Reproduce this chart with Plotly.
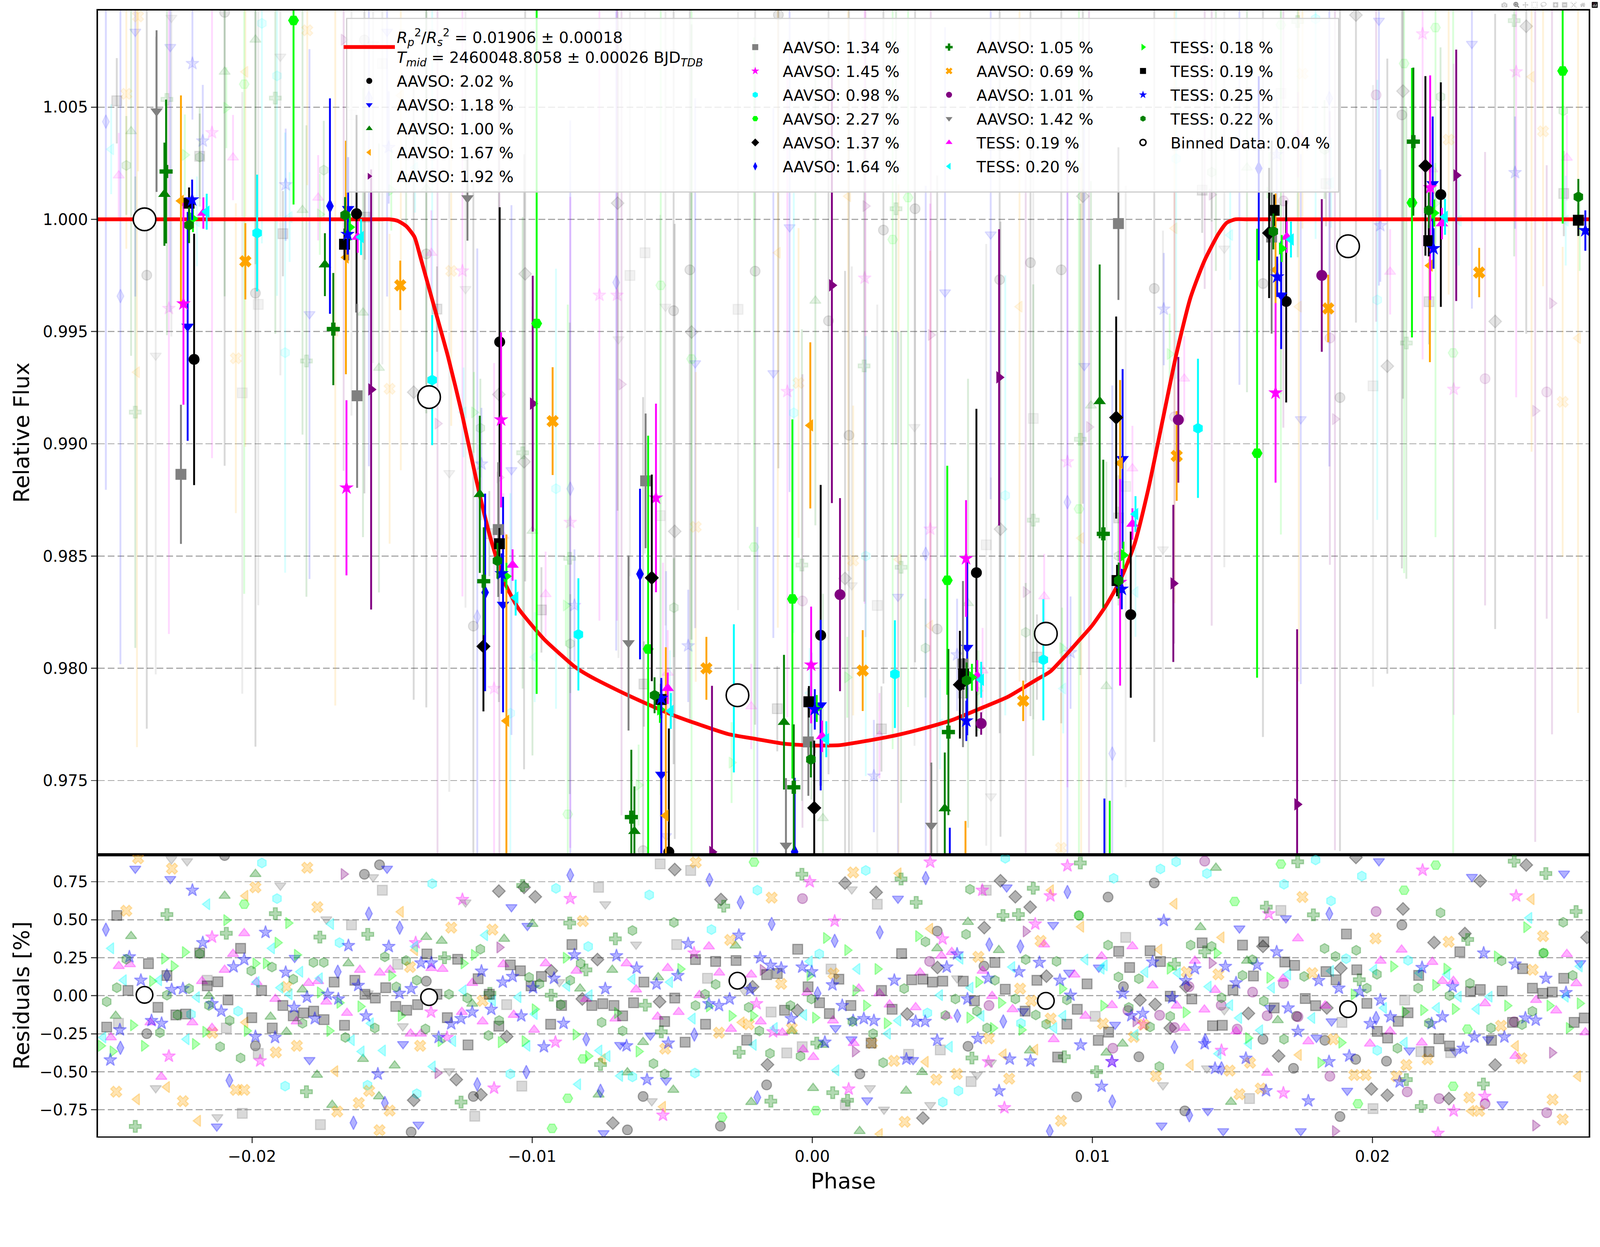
import plotly.graph_objects as go

# ------------------------------------------------------------------ data
sources = ["AAVSO"] * 15 + ["TESS"] * 6
scatter_pct = [2.02, 1.18, 1.00, 1.67, 1.92, 1.34, 1.45, 0.98, 2.27, 1.37, 1.64,
               1.05, 0.69, 1.01, 1.42, 0.19, 0.20, 0.18, 0.19, 0.25, 0.22]
binned_pct = 0.04
rp2_value, rp2_error = 0.01906, 0.00018
tmid_value, tmid_error = 2460048.8058, 0.00026

# transit model
model_phase = [-0.0256, -0.0200, -0.0165, -0.0155, -0.0151, -0.0148, -0.0145, -0.0142, -0.0140, -0.0135,
               -0.0130, -0.0125, -0.0120, -0.0115, -0.0110, -0.0105, -0.0100, -0.0095, -0.0090, -0.0085,
               -0.0080, -0.0070, -0.0060, -0.0050, -0.0040, -0.0030, -0.0020, -0.0010, 0.0000, 0.0010,
               0.0020, 0.0030, 0.0040, 0.0050, 0.0060, 0.0070, 0.0080, 0.0085, 0.0090, 0.0095,
               0.0100, 0.0105, 0.0110, 0.0115, 0.0120, 0.0125, 0.0130, 0.0135, 0.0140, 0.0145,
               0.0148, 0.0151, 0.0155, 0.0165, 0.0200, 0.0278]
model_flux = [1.0, 1.0, 1.0, 1.0, 1.0, 0.99993, 0.99970, 0.99921, 0.99836, 0.99611,
              0.99386, 0.99130, 0.98842, 0.98585, 0.98387, 0.98268, 0.98190, 0.98120, 0.98063, 0.98009,
              0.97969, 0.97905, 0.97847, 0.97793, 0.97748, 0.97707, 0.97685, 0.97664, 0.97656, 0.97658,
              0.97678, 0.97702, 0.97733, 0.97770, 0.97821, 0.97874, 0.97949, 0.97986, 0.98051, 0.98121,
              0.98192, 0.98282, 0.98394, 0.98551, 0.98800, 0.99100, 0.99400, 0.99650, 0.99815, 0.99935,
              0.99985, 1.0, 1.0, 1.0, 1.0, 1.0]

# all-data binned points (open circles)
binned_phase = [-0.02384, -0.01368, -0.00267, 0.00834, 0.01913]
binned_flux = [1.00000, 0.99208, 0.97880, 0.98154, 0.99880]
binned_resid = [0.006, -0.009, 0.099, -0.033, -0.088]

# per-dataset binned points
bin_phase = [
    [-0.02207, -0.01627, -0.01116, -0.00512, 0.00030, 0.00586, 0.01137, 0.01692, 0.02244],
    [-0.02230, -0.01657, -0.01104, -0.00539, 0.00030, 0.00553, 0.01108, 0.01674, 0.02215],
    [-0.02313, -0.01740, -0.01187, -0.00635, -0.00101, 0.00473, 0.01026],
    [-0.02254, -0.01665, -0.01092, -0.00523, -0.00007, 0.00547, 0.01099, 0.01654, 0.02205],
    [-0.01575, -0.00998, -0.00358, 0.00070, 0.00667, 0.01289, 0.01731, 0.02299],
    [-0.02254, -0.01625, -0.01121, -0.00595, -0.00014, 0.00538, 0.01093, 0.01640],
    [-0.02245, -0.01663, -0.01111, -0.00558, -0.00004, 0.00549, 0.01099, 0.01654, 0.02206],
    [-0.01982, -0.01357, -0.00835, -0.00280, 0.00295, 0.00825, 0.01377],
    [-0.01852, -0.00984, -0.00586, -0.00071, 0.00482, 0.01062, 0.01588, 0.02141, 0.02679],
    [-0.01174, -0.00573, 0.00007, 0.00527, 0.01085, 0.01631, 0.02189],
    [-0.01722, -0.01168, -0.00615, -0.00063, 0.00491, 0.01043, 0.01594],
    [-0.02307, -0.01710, -0.01173, -0.00646, -0.00066, 0.00486, 0.01039, 0.02146],
    [-0.02024, -0.01471, -0.00927, -0.00378, 0.00180, 0.00753, 0.01301, 0.01842, 0.02381],
    [0.00099, 0.00603, 0.01307, 0.01819],
    [-0.02341, -0.01231, -0.00656, -0.00094, 0.00425],
    [-0.02174, -0.01623, -0.01070, -0.00516, 0.00035, 0.00589, 0.01143, 0.01694, 0.02248],
    [-0.02162, -0.01611, -0.01059, -0.00505, 0.00050, 0.00603, 0.01154, 0.01709, 0.02259],
    [-0.02211, -0.01651, -0.01092, -0.00544, 0.00016, 0.00570, 0.01111, 0.01676, 0.02220],
    [-0.02225, -0.01670, -0.01117, -0.00540, -0.00012, 0.00540, 0.01088, 0.01649, 0.02201, 0.02735],
    [-0.02214, -0.01659, -0.01109, -0.00539, 0.00009, 0.00550, 0.01105, 0.01660, 0.02218, 0.02760],
    [-0.02225, -0.01668, -0.01124, -0.00563, -0.00005, 0.00551, 0.01094, 0.01646, 0.02201, 0.02735],
]
bin_flux = [
    [0.99376, 1.00025, 0.99454, 0.97182, 0.98147, 0.98426, 0.98239, 0.99634, 1.00110],
    [0.99523, 1.00047, 0.98284, 0.97527, 0.97836, 0.98092, 0.98933, 0.99662, 1.00158],
    [1.00112, 0.99798, 0.98775, 0.97274, 0.97760, 0.97375, 0.99189],
    [1.00082, 0.99830, 0.97766, 0.97344, 0.99082, 0.96970, 0.98914, 0.99775, 0.99794],
    [0.99242, 0.99179, 0.97182, 0.99706, 0.99296, 0.98378, 0.97394, 1.00196],
    [0.98864, 0.99214, 0.98618, 0.98835, 0.97672, 0.98019, 0.99981, 0.99921],
    [0.99624, 0.98804, 0.99107, 0.98759, 0.98015, 0.98489, 0.98383, 0.99227, 1.00141],
    [0.99939, 0.99284, 0.98151, 0.97866, 0.97974, 0.98038, 0.99069],
    [1.00886, 0.99536, 0.98086, 0.98309, 0.98392, 0.96810, 0.98958, 1.00074, 1.00661],
    [0.98098, 0.98403, 0.97378, 0.97927, 0.99117, 0.99939, 1.00238],
    [1.00059, 0.98338, 0.98420, 0.97182, 0.97000, 0.97100, 1.00227],
    [1.00213, 0.99511, 0.98388, 0.97337, 0.97470, 0.97716, 0.98599, 1.00346],
    [0.99813, 0.99706, 0.99101, 0.98000, 0.97990, 0.97855, 0.98946, 0.99603, 0.99763],
    [0.98328, 0.97754, 0.99107, 0.99750],
    [1.00482, 1.00095, 0.98113, 0.97211, 0.97300],
    [1.00028, 0.99921, 0.98460, 0.97911, 0.97697, 0.97966, 0.98643, 0.99921, 0.99981],
    [1.00034, 0.99921, 0.98315, 0.97810, 0.97684, 0.97949, 0.98687, 0.99910, 1.00011],
    [1.00003, 0.99965, 0.98410, 0.97817, 0.97821, 0.97960, 0.98504, 0.99870, 1.00028],
    [1.00072, 0.99889, 0.98555, 0.97861, 0.97851, 0.97975, 0.98391, 1.00040, 0.99905, 0.99996],
    [1.00087, 0.99933, 0.98422, 0.97867, 0.97817, 0.97766, 0.98353, 0.99744, 0.99870, 0.99950],
    [0.99974, 1.00019, 0.98479, 0.97880, 0.97594, 0.97946, 0.98391, 0.99946, 1.00040, 1.00100],
]
bin_err = [
    [0.0056, 0.0044, 0.0060, 0.0055, 0.0067, 0.0073, 0.0037, 0.0045, 0.0050],
    [0.0051, 0.0023, 0.0048, 0.0042, 0.0038, 0.0039, 0.0040, 0.0024, 0.0030],
    [0.0023, 0.0014, 0.0035, 0.0020, 0.0030, 0.0025, 0.0061],
    [0.0047, 0.0052, 0.0083, 0.0075, 0.0037, 0.0035, 0.0037, 0.0034, 0.0043],
    [0.0098, 0.0057, 0.0074, 0.0097, 0.0066, 0.0035, 0.0078, 0.0056],
    [0.0031, 0.0041, 0.0030, 0.0030, 0.0024, 0.0037, 0.0034, 0.0043],
    [0.0045, 0.0039, 0.0039, 0.0042, 0.0026, 0.0026, 0.0046, 0.0040, 0.0050],
    [0.0026, 0.0029, 0.0025, 0.0033, 0.0024, 0.0027, 0.0031],
    [0.0082, 0.0165, 0.0095, 0.0080, 0.0051, 0.0060, 0.0100, 0.0060, 0.0068],
    [0.0029, 0.0046, 0.0030, 0.0024, 0.0045, 0.0029, 0.0040],
    [0.0048, 0.0044, 0.0038, 0.0033, 0.0029, 0.0032, 0.0041],
    [0.0032, 0.0025, 0.0024, 0.0030, 0.0028, 0.0037, 0.0033, 0.0033],
    [0.0017, 0.0011, 0.0024, 0.0014, 0.0018, 0.0009, 0.0020, 0.0015, 0.0011],
    [0.0043, 0.0005, 0.0028, 0.0034],
    [0.0036, 0.0019, 0.0039, 0.0030, 0.0028],
    [0.0007, 0.0007, 0.0007, 0.0007, 0.0007, 0.0007, 0.0007, 0.0007, 0.0007],
    [0.0008, 0.0008, 0.0008, 0.0008, 0.0008, 0.0008, 0.0008, 0.0008, 0.0008],
    [0.0006, 0.0006, 0.0006, 0.0006, 0.0006, 0.0006, 0.0006, 0.0006, 0.0006],
    [0.0007, 0.0007, 0.0007, 0.0007, 0.0007, 0.0007, 0.0007, 0.0007, 0.0007, 0.0007],
    [0.0009, 0.0009, 0.0009, 0.0009, 0.0009, 0.0009, 0.0009, 0.0009, 0.0009, 0.0009],
    [0.0008, 0.0008, 0.0008, 0.0008, 0.0008, 0.0008, 0.0008, 0.0008, 0.0008, 0.0008],
]

# faint unbinned measurements in the flux panel
raw_phase = [
    [-0.02098, -0.01599, -0.02376, -0.01988, -0.01378, -0.01210, 0.00446, -0.00604, 0.01221, 0.02105, 0.01884,
     0.01609, -0.00437, -0.00204, 0.00254, 0.00367, 0.00779, 0.00889, 0.00669, -0.00495, 0.00058, 0.00131, -0.00121],
    [-0.02417, -0.02292, -0.01518, -0.01074, -0.01795, 0.00306, -0.00522, 0.02023, 0.02355, 0.01525, 0.01744,
     -0.00081, 0.00474, -0.00139, -0.00418, 0.00637, 0.00971],
    [-0.01988, -0.02098, -0.02432, -0.00999, -0.01378, -0.01820, -0.01604, -0.01547, 0.00556, 0.00038, 0.01441,
     0.01552, 0.01050, 0.00011, 0.00995],
    [-0.02024, -0.01469, -0.01703, -0.02411, 0.00308, 0.00421, 0.00960, 0.01293, 0.02568, 0.02734, 0.01737,
     0.00740, -0.00123, 0.00128],
    [-0.01673, -0.01117, -0.01338, 0.00762, 0.01426, 0.02641, 0.01866, 0.02581, 0.00190, -0.00681, 0.00423, 0.00988],
    [-0.01535, -0.01645, -0.01978, -0.02035, -0.00543, 0.00232, 0.00621, 0.01673, 0.01119, 0.02002, -0.00597,
     -0.00651, -0.00265, 0.00789],
    [-0.01249, -0.00864, -0.02143, -0.02297, -0.01136, 0.00421, 0.00911, -0.00533, 0.02179, 0.02513, 0.02290,
     -0.00760, -0.00697, 0.00187, -0.00089],
    [-0.01965, -0.01357, -0.00915, -0.01911, -0.01882, -0.01078, 0.00191, 0.00689, 0.01299, 0.01797, 0.02017, -0.00066],
    [-0.02028, -0.00873, -0.00208, 0.00952, 0.01673, 0.02113, 0.02288, -0.00541, 0.00287, 0.00342, -0.00431, 0.02225],
    [-0.01119, -0.01029, -0.01423, -0.00491, 0.00117, 0.00672, 0.01941, 0.02549, 0.02109, 0.02053, 0.02438,
     -0.00695, -0.00431, 0.00966, -0.01025],
    [-0.00864, -0.01583, -0.02522, -0.02470, -0.01196, 0.00405, 0.00911, -0.00196, 0.01846, 0.01071, -0.00700],
    [-0.02304, -0.01917, -0.01034, -0.00866, -0.01806, -0.02417, -0.00037, 0.00317, 0.00789, 0.00957, 0.01733,
     0.02506, 0.02121, 0.00299, 0.00185],
    [-0.02407, -0.01803, -0.02449, -0.01289, -0.01509, -0.02058, 0.00146, -0.00416, 0.00888, 0.01750, 0.02609,
     0.02679, 0.02272, -0.00049],
    [-0.00035, 0.01401, 0.02013, 0.01848, 0.02402, 0.02622, 0.01293, 0.01682],
    [-0.02288, -0.01568, -0.01899, -0.01238, -0.01296, -0.02344, 0.00141, 0.00638, 0.01471, 0.01252, -0.00692,
     0.00365, -0.00524],
    [-0.02476, -0.02068, -0.01764, -0.01360, -0.01103, -0.00952, -0.00516, -0.00218, 0.00240, 0.00608, 0.00828,
     0.01143, 0.01734, 0.02214, 0.02694, 0.01328, 0.02063],
    [-0.02503, -0.02197, -0.01866, -0.01418, -0.01245, -0.00991, -0.00508, -0.00009, 0.00456, 0.00896, 0.01154,
     0.01492, 0.01852, 0.02308, 0.02690],
    [-0.02092, -0.02240, -0.01758, -0.01503, -0.01208, -0.00880, -0.00620, -0.00288, 0.00125, 0.00593, 0.00892,
     0.01276, 0.01632, 0.02224, 0.02740],
    [-0.02483, -0.02187, -0.01890, -0.01597, -0.01340, -0.01153, -0.00967, -0.00601, -0.00125, 0.00247, 0.00539,
     0.00802, 0.01094, 0.01392, 0.01834, 0.02202, 0.02683],
    [-0.02213, -0.02176, -0.01880, -0.01512, -0.01181, -0.00849, -0.00443, -0.00002, 0.00220, 0.00517, 0.00922,
     0.01255, 0.01658, 0.02028, 0.02509],
    [-0.02449, -0.02187, -0.01744, -0.01450, -0.01185, -0.00864, -0.00494, -0.00003, 0.00404, 0.00762, 0.01093,
     0.01426, 0.01829, 0.02243, 0.02681],
]
raw_flux = [
    [1.00922, 1.00799, 0.99751, 0.99671, 0.99846, 0.98188, 0.98175, 0.97188, 0.99692, 1.00465, 0.99206,
     0.99714, 0.99775, 0.99769, 0.99952, 1.00047, 0.99807, 0.99775, 0.99731, 0.99593, 0.99548, 0.99038, 1.00911],
    [1.00836, 1.00768, 1.00836, 0.98883, 0.99578, 0.98319, 0.97253, 1.00885, 1.00782, 1.00443, 0.99110,
     0.99965, 0.99675, 0.99315, 0.99359, 0.99933, 0.99347],
    [1.00800, 1.00657, 1.00392, 0.98612, 1.00136, 1.00041, 0.99584, 0.99338, 0.98290, 0.97332, 1.00770,
     1.00230, 0.97920, 0.99637, 0.99170],
    [1.00657, 1.00552, 0.99504, 0.99319, 0.98485, 0.98190, 0.98580, 0.99960, 1.00635, 0.99471, 0.99611,
     0.99611, 0.99851, 1.00103],
    [1.00800, 0.98850, 0.99090, 0.98340, 1.00110, 0.99626, 0.99110, 0.99147, 1.00059, 0.99265, 0.99485, 0.99075],
    [1.00694, 1.00466, 0.99621, 0.99227, 0.98680, 0.98280, 0.98550, 1.00561, 0.98810, 0.99258, 0.99851,
     0.99750, 0.99599, 0.99113],
    [0.99770, 0.98650, 1.00386, 0.99603, 0.97910, 0.98620, 0.98920, 0.97020, 1.00826, 1.00657, 0.99243,
     0.99662, 0.99662, 0.99738, 0.99233],
    [1.00873, 1.00400, 0.98800, 1.00639, 0.99406, 0.97800, 0.98500, 0.98770, 1.00270, 1.00893, 0.99641, 0.99138],
    [1.00602, 0.97350, 0.98540, 0.98710, 1.00866, 1.00694, 0.99405, 0.99706, 0.99910, 1.00097, 0.99378, 1.00854],
    [0.99220, 0.98920, 0.99230, 0.98610, 0.98400, 0.98620, 1.00910, 1.00860, 1.00571, 0.99346, 0.99545,
     1.00072, 0.99498, 1.00103, 0.99757],
    [0.98800, 1.00540, 1.00435, 0.99658, 0.98230, 0.98510, 0.98740, 0.96990, 1.00539, 0.97620, 0.99719],
    [1.00534, 1.00540, 0.98960, 0.98490, 0.99369, 0.99141, 0.98460, 0.98450, 0.98660, 0.99020, 1.00881,
     1.00885, 0.99449, 1.00047, 0.99347],
    [1.00904, 1.00842, 1.00559, 0.99770, 0.99245, 0.99381, 0.98480, 0.98630, 0.97200, 1.00649, 1.00392,
     0.99187, 1.00355, 0.99271],
    [0.98300, 1.00700, 1.00554, 0.99471, 0.99290, 0.99231, 0.99120, 1.00082],
    [1.00898, 1.00780, 1.00725, 0.99690, 0.98870, 0.99393, 0.98370, 0.97430, 0.99870, 0.98530, 0.99466,
     0.99075, 0.99611],
    [1.00195, 1.00275, 1.00096, 0.99850, 0.98590, 0.98330, 0.97980, 0.97830, 0.97700, 0.97990, 0.98320,
     0.98890, 1.00377, 1.00222, 1.00274, 0.99290, 0.99766],
    [1.00312, 0.99991, 1.00010, 1.00230, 0.99140, 0.98050, 0.97880, 0.97890, 0.97750, 0.97910, 0.98340,
     0.99930, 1.00163, 0.99994, 0.99994],
    [1.00497, 1.00287, 1.00022, 1.00130, 0.99140, 0.98280, 0.97480, 0.97580, 0.97960, 0.97900, 0.98090,
     0.99400, 1.00119, 1.00071, 0.99950],
    [1.00528, 1.00281, 0.99936, 1.00010, 0.99600, 0.98600, 0.98260, 0.97930, 0.97820, 0.97730, 0.97890,
     0.98050, 0.98670, 1.00130, 1.00159, 0.99633, 1.00115],
    [1.00694, 1.00349, 1.00154, 1.00320, 0.98910, 0.98280, 0.98100, 0.97820, 0.97520, 0.98060, 0.98070,
     0.99600, 1.00289, 0.99972, 1.00208],
    [1.00240, 1.00277, 1.00219, 1.00180, 0.99070, 0.98110, 0.98270, 0.97635, 0.98090, 0.98160, 0.98500,
     1.00210, 1.00311, 1.00546, 1.00483],
]
raw_err = [0.0202, 0.0118, 0.0100, 0.0167, 0.0192, 0.0134, 0.0145, 0.0098, 0.0227, 0.0137, 0.0164,
           0.0105, 0.0069, 0.0101, 0.0142, 0.0019, 0.0020, 0.0018, 0.0019, 0.0025, 0.0022]

# residuals (percent) of the unbinned measurements
res_phase = [
    [-0.02098, -0.01599, -0.01545, -0.02376, -0.01988, -0.01378, -0.01210, -0.01432,
     0.00446, 0.00613, 0.00556, 0.00170, -0.00163, -0.00604, -0.00328, -0.00660, 0.00944,
     0.01221, 0.01056, 0.02105, 0.01111, 0.01609, 0.01830, 0.01166, 0.01718, 0.01940, 0.02050, 0.01884,
     0.01330, 0.01729],
    [-0.02417, -0.02292, -0.01518, -0.01074, -0.01017, -0.01848, -0.01795, -0.01461, -0.01406, -0.02126,
     0.00306, 0.00694, 0.00860, -0.00578, -0.00686, -0.00522, 0.00196, 0.00360, 0.00140, 0.00083, 0.00917,
     0.00753, -0.00745,
     0.02023, 0.02355, 0.02684, 0.01525, 0.01691, 0.01023, 0.02742, 0.01081, 0.01854, 0.02132, 0.02413,
     0.02296, 0.01800, 0.01634, 0.01910, 0.02464, 0.01412, 0.01247, 0.01744, 0.01467],
    [-0.01988, -0.02098, -0.02432, -0.00999, -0.01100, -0.01378, -0.01323, -0.01656, -0.01820, -0.02154,
     -0.02487, -0.01934, -0.01877, -0.01214, -0.00829, -0.01604, -0.01491, -0.01768, -0.01547, -0.01714,
     0.00556, -0.00274, 0.00666, -0.00714, -0.00550, 0.00446, -0.00604, -0.00073, 0.00038, 0.00777,
     -0.00660, -0.00496, -0.00218, 0.00003, 0.00335, 0.00392, 0.00169, -0.00763,
     0.01441, 0.01386, 0.01552, 0.01662, 0.01108, 0.01050, 0.01495],
    [-0.02024, -0.01469, -0.01418, -0.01703, -0.02411, -0.02304, -0.02193, -0.02024,
     0.00308, 0.00421, 0.00852, 0.00960, -0.00252, 0.00405, 0.00683, 0.00796, -0.00533, 0.00241, -0.00748,
     0.01293, 0.01461, 0.01239, 0.01737, 0.01351, 0.02568, 0.02512, 0.02734, 0.02352],
    [-0.01673, -0.01117, -0.01338, -0.00177, 0.00762, 0.00152, 0.01426, 0.01154, 0.02641, 0.01866, 0.02581],
    [-0.01535, -0.01645, -0.01480, -0.01091, -0.01978, -0.02035, -0.01756, -0.01205, -0.01037, -0.02092,
     -0.02477, -0.02160,
     -0.00543, -0.00434, -0.00763, 0.00232, -0.00484, -0.00374, 0.00621, -0.00147, -0.00036, -0.00091,
     0.00344, 0.00457, 0.00567, 0.00118, 0.00067,
     0.01673, 0.01119, 0.01010, 0.01891, 0.02115, 0.02173, 0.02279, 0.01561, 0.02002],
    [-0.01249, -0.00864, -0.02143, -0.01416, -0.02297, -0.01971, -0.01136, -0.01361, -0.01304, -0.00917,
     0.00421, -0.00009, 0.00911, 0.00607, 0.00850, 0.00080, 0.00796, 0.00465, -0.00422, -0.00199, 0.00130,
     0.00629, 0.00686, -0.00533, -0.00140,
     0.02179, 0.02513, 0.01630, 0.01682, 0.01461, 0.01070, 0.02290, 0.02234, 0.02401, 0.01183],
    [-0.01965, -0.01357, -0.00915, -0.01911, -0.01688, -0.00800, -0.02218, -0.02050, -0.01882, -0.01588,
     -0.01412, -0.01078,
     -0.00582, -0.00196, -0.00360, 0.00025, 0.00191, 0.00689, 0.00411, 0.00745, 0.00522, 0.00466, -0.00419,
     -0.00642,
     0.01076, 0.01243, 0.01299, 0.01409, 0.01797, 0.01852, 0.01962, 0.01684, 0.01906, 0.02127, 0.02017],
    [-0.02028, -0.00873, -0.00929, -0.00819, -0.00208, 0.00952, 0.00013, -0.00322, 0.01673, 0.01508,
     0.02113, 0.02226, 0.02612, 0.01948, 0.02288, 0.02339],
    [-0.01119, -0.01029, -0.00989, -0.00932, -0.01091, -0.01271, -0.01423, -0.01183, -0.00821,
     -0.00491, -0.00326, 0.00117, 0.00228, 0.00672, 0.00725, 0.00778, 0.00614, 0.00447, -0.00545, -0.00053,
     0.00339, -0.00160, 0.00395, -0.00712, -0.00213, 0.00836, -0.00767,
     0.01941, 0.02549, 0.02385, 0.02109, 0.02330, 0.02220, 0.01609, 0.01887, 0.01170, 0.01224, 0.01334,
     0.01557, 0.01278, 0.01665, 0.01996, 0.02053, 0.02273, 0.02438, 0.02766, 0.01837],
    [-0.00864, -0.01583, -0.01473, -0.02522, -0.02304, -0.01694, -0.02470, -0.02081, -0.01021, -0.01196,
     -0.01526, -0.01638, -0.00807,
     -0.00367, -0.00256, -0.00145, 0.00405, 0.00241, 0.00080, 0.00911, 0.00743, 0.00632, 0.00019, 0.00518,
     0.00682, -0.00421, -0.00196, -0.00756, 0.00848,
     0.01846, 0.01403, 0.01293, 0.01461, 0.01071, 0.01346, 0.02013],
    [-0.02304, -0.01917, -0.01034, -0.00866, -0.02092, -0.01758, -0.01587, -0.01313, -0.00808, -0.01151,
     -0.00932, -0.01806, -0.01254, -0.02417,
     -0.00037, 0.00317, 0.00371, -0.00316, 0.00789, 0.00681, 0.00736, 0.00957, -0.00703, -0.00539, -0.00261,
     0.00016, 0.00570, 0.00073, -0.00148, 0.00126, 0.00900, -0.00756, -0.00596,
     0.01733, 0.01621, 0.01789, 0.02506, 0.02619, 0.02727, 0.02340, 0.01401, 0.01293, 0.01953, 0.01015,
     0.02121, 0.02396, 0.02174],
    [-0.02407, -0.02286, -0.01803, -0.01988, -0.02449, -0.01767, -0.01289, -0.01142, -0.00819, -0.01436,
     -0.01877, -0.01177, -0.01840, -0.01915, -0.01400, -0.02485, -0.02058, -0.02028, -0.02247, -0.01582,
     -0.01619, -0.01696, -0.01509, -0.01545, -0.02142,
     -0.00416, 0.00146, -0.00145, -0.00293, 0.00815, 0.00593, -0.00111, 0.00076, 0.00742, 0.00782, -0.00227,
     -0.00333, -0.00073, -0.00525, 0.00630, 0.00851, 0.00213, 0.00292, 0.00443, 0.00516, 0.00703, 0.00330,
     0.00888,
     0.01750, 0.02011, 0.02272, 0.02609, 0.01450, 0.01337, 0.01785, 0.02572, 0.01038, 0.01183, 0.01148,
     0.01860, 0.02121, 0.02197, 0.01563, 0.01227, 0.01490, 0.01935, 0.01976, 0.02086, 0.01525, 0.01601,
     0.02346, 0.02381, 0.02643, 0.02679, 0.02532, 0.02459],
    [-0.00035, 0.00631, 0.00419, 0.01401, 0.02013, 0.01345, 0.01682, 0.01572, 0.01460, 0.01240, 0.01624,
     0.01734, 0.01127, 0.01293, 0.01517, 0.01073, 0.01848, 0.02124, 0.02238, 0.02402, 0.02622, 0.02506],
    [-0.02288, -0.02232, -0.01568, -0.01899, -0.01735, -0.01238, -0.00903, -0.01462, -0.01296, -0.02344,
     -0.02124, -0.01587,
     -0.00739, -0.00629, 0.00141, -0.00244, 0.00517, 0.00638, 0.00588, 0.00206, -0.00573, 0.00256, 0.00421,
     0.01471, 0.01252, 0.01409],
    [-0.02028, -0.02476, -0.02436, -0.02068, -0.02098, -0.02179, -0.01984, -0.01798, -0.01764, -0.01615,
     -0.01544, -0.01507, -0.01360, -0.01320, -0.01103, -0.00952, -0.00842, -0.01917, -0.01735, -0.01661,
     -0.01841, -0.02213, -0.02363, -0.02504, -0.02143, -0.01434, -0.01397, -0.01177, -0.01066, -0.00993,
     -0.01251, -0.01214, -0.00808, -0.02324,
     -0.00663, -0.00516, -0.00369, -0.00332, -0.00218, -0.00629, -0.00403, -0.00477, -0.00552, -0.00703,
     -0.00018, 0.00166, 0.00240, 0.00276, 0.00385, 0.00461, 0.00498, 0.00608, 0.00642, 0.00715,
     0.00828, 0.00936, 0.00975, 0.00862, 0.00480, 0.00369, -0.00290, -0.00184, -0.00107, 0.00004,
     -0.00033, 0.00148, 0.00074,
     0.01734, 0.02104, 0.02214, 0.02029, 0.02694, 0.01143, 0.01033, 0.01366, 0.01215, 0.01438,
     0.01681, 0.02250, 0.02289, 0.02584, 0.02728, 0.02656, 0.02402, 0.01831, 0.01070, 0.01400,
     0.01301, 0.01328, 0.01513, 0.01771, 0.01991, 0.02063, 0.02176, 0.02510, 0.02760, 0.01624],
    [-0.02160, -0.02503, -0.01929, -0.01718, -0.01168, -0.02458, -0.02332, -0.01758, -0.01828, -0.01899,
     -0.01866, -0.02197, -0.01984, -0.01418, -0.01245, -0.01140, -0.01049, -0.00991, -0.00875, -0.00795,
     -0.01576, -0.01644, -0.01282, -0.01533, -0.01609, -0.02234, -0.01355, -0.00836, -0.02531, -0.01017,
     -0.00642, -0.00508, -0.00009, 0.00161, 0.00529, 0.00714, 0.00975, 0.00565, 0.00456, 0.00604,
     0.00896, 0.00307, 0.00270, -0.00029, -0.00134, -0.00209, -0.00427, -0.00731, -0.00686, 0.00086,
     0.00491, 0.00864, -0.00760,
     0.02560, 0.01044, 0.02267, 0.01189, 0.01305, 0.01415, 0.01492, 0.01641, 0.01699, 0.01852,
     0.02006, 0.02168, 0.02308, 0.02418, 0.02690, 0.02372, 0.02041, 0.02230, 0.01785, 0.01524,
     0.01599, 0.01559, 0.01154, 0.01450, 0.02115, 0.01033, 0.02740],
    [-0.02092, -0.01871, -0.01909, -0.02240, -0.02314, -0.02280, -0.01988, -0.01951, -0.01840, -0.02357,
     -0.01758, -0.01688, -0.01613, -0.01503, -0.01245, -0.01208, -0.00991, -0.00880, -0.00800, -0.02425,
     -0.02167, -0.02204, -0.02386, -0.02498, -0.02019, -0.01724, -0.01469, -0.01327, -0.01027, -0.00845,
     -0.02540, -0.01112,
     -0.00471, -0.00010, 0.00049, 0.00125, 0.00233, 0.00378, 0.00593, 0.00674, 0.00892, 0.00747,
     0.00645, 0.00561, 0.00266, 0.00192, 0.00154, 0.00010, -0.00211, -0.00288, -0.00620, -0.00697,
     -0.00369,
     0.02549, 0.01444, 0.01276, 0.02444, 0.02264, 0.02074, 0.01632, 0.02224, 0.02481, 0.02740,
     0.02632, 0.02294, 0.02181, 0.02115, 0.01933, 0.01333, 0.01039, 0.01556, 0.01889, 0.01814,
     0.02701],
    [-0.02483, -0.02370, -0.02187, -0.02041, -0.02304, -0.02443, -0.02336, -0.02519, -0.02272, -0.02237,
     -0.02160, -0.02122, -0.02086, -0.01966, -0.01890, -0.01853, -0.01816, -0.01780, -0.01743, -0.01707,
     -0.01633, -0.01597, -0.01560, -0.01523, -0.01487, -0.01448, -0.01409, -0.01376, -0.01340, -0.01303,
     -0.01266, -0.01193, -0.01153, -0.01119, -0.01078, -0.01042, -0.01004, -0.00967, -0.00934, -0.00895,
     -0.00858, -0.00787, -0.01928, -0.02001, -0.01670, -0.01229,
     -0.00601, -0.00638, -0.00708, -0.00748, -0.00677, -0.00527, -0.00491, -0.00417, -0.00345, -0.00272,
     -0.00163, -0.00125, -0.00052, -0.00015, 0.00061, 0.00095, 0.00138, 0.00247, 0.00285, 0.00319,
     0.00355, 0.00395, 0.00429, 0.00466, 0.00539, 0.00579, 0.00652, 0.00689, 0.00760, 0.00802,
     0.00909, 0.00946, 0.00981, -0.00381, -0.00454, -0.00234, -0.00099, 0.00026, 0.00210, 0.00876,
     0.01021, 0.01058, 0.01094, 0.01133, 0.01206, 0.01243, 0.01278, 0.01355, 0.01392, 0.01429,
     0.01464, 0.01502, 0.01536, 0.01575, 0.01612, 0.01649, 0.01687, 0.01722, 0.01760, 0.01797,
     0.01834, 0.01870, 0.01907, 0.01944, 0.01980, 0.02017, 0.02054, 0.02092, 0.02127, 0.02165,
     0.02202, 0.02237, 0.02275, 0.02312, 0.02350, 0.02385, 0.02425, 0.02463, 0.02500, 0.02536,
     0.02571, 0.02608, 0.02642, 0.02683, 0.02720, 0.02756],
    [-0.02213, -0.01952, -0.02176, -0.01656, -0.01512, -0.02438, -0.02028, -0.02066, -0.01880, -0.01181,
     -0.01070, -0.01105, -0.00849, -0.00922, -0.00997, -0.02397, -0.02287, -0.02247, -0.01804, -0.01730,
     -0.01692, -0.01621, -0.01432, -0.01397, -0.01360, -0.02143, -0.02110, -0.01850, -0.01776, -0.01593,
     -0.01146, -0.01039, -0.01214, -0.01254, -0.01289, -0.02359, -0.02323, -0.02472, -0.01988, -0.01918,
     -0.01334, -0.00888, -0.00958, -0.02506, -0.01551, -0.01474,
     -0.00699, -0.00627, -0.00480, -0.00556, -0.00443, -0.00262, -0.00186, -0.00149, -0.00111, -0.00036,
     -0.00002, 0.00072, -0.00739, -0.00369, -0.00333, -0.00295, -0.00222, -0.00075, 0.00107, 0.00146,
     0.00184, 0.00220, 0.00293, 0.00369, 0.00403, 0.00480, 0.00517, 0.00554, 0.00591, 0.00628,
     0.00738, 0.00811, 0.00884, 0.00922, 0.00958, 0.00705, 0.00779, 0.00667, 0.00336, 0.00045,
     -0.00514, -0.00663, -0.00590, 0.00446,
     0.01255, 0.01658, 0.01588, 0.01475, 0.01366, 0.01215, 0.01808, 0.02177, 0.02397, 0.02509,
     0.02619, 0.02691, 0.02286, 0.02028, 0.01955, 0.01880, 0.01513, 0.01333, 0.01285, 0.01108,
     0.01180, 0.01139, 0.01699, 0.02250, 0.02211, 0.02546, 0.02583, 0.02364, 0.02471, 0.02324,
     0.02064, 0.01992, 0.01734, 0.01401, 0.01548, 0.01845, 0.01917, 0.01438, 0.01620, 0.01771,
     0.02097, 0.01070, 0.01033],
    [-0.02449, -0.02187, -0.02003, -0.01929, -0.01781, -0.01744, -0.01853, -0.02483, -0.02225, -0.02519,
     -0.02304, -0.02266, -0.02154, -0.02080, -0.02329, -0.02114, -0.02041, -0.01820, -0.01562, -0.01667,
     -0.01412, -0.01450, -0.01526, -0.01185, -0.01297, -0.01232, -0.01011, -0.00974, -0.00864, -0.00827,
     -0.01156, -0.01381, -0.01118, -0.01485, -0.00898,
     -0.00642, -0.00494, -0.00345, -0.00383, -0.00417, -0.00752, -0.00677, -0.00567, -0.00527, -0.00227,
     -0.00189, -0.00151, -0.00042, -0.00078, -0.00003, 0.00143, 0.00217, 0.00253, 0.00328, 0.00404,
     0.00549, 0.00475, 0.00511, 0.00624, 0.00588, 0.00652, 0.00725, 0.00762, 0.00872, 0.00835,
     0.00798, 0.00909, 0.00563, 0.00952,
     0.01056, 0.01093, 0.01166, 0.01278, 0.01351, 0.01426, 0.01461, 0.01536, 0.01571, 0.01612,
     0.01684, 0.01756, 0.01829, 0.01868, 0.01942, 0.01980, 0.02016, 0.02089, 0.02163, 0.02201,
     0.02275, 0.02348, 0.02423, 0.02461, 0.02534, 0.02571, 0.02681, 0.02715, 0.02243, 0.02610,
     0.01206, 0.01130, 0.01239],
]
res_value = [
    [0.922, 0.799, 0.861, -0.249, -0.329, 0.096, -0.662, -0.896,
     0.425, 0.195, -0.332, -0.514, -0.586, -0.662, -0.857, -0.882, -0.665,
     0.742, 0.649, 0.465, 0.060, -0.286, -0.293, -0.401, -0.477, -0.418, -0.430, -0.794, -0.757, -0.135],
    [0.836, 0.768, 0.836, 0.583, 0.460, 0.250, -0.422, -0.317, -0.847, -0.859,
     0.639, 0.713, 0.466, -0.261, -0.323, -0.557, -0.687, -0.422, -0.286, -0.212, 0.152, -0.101, -0.903,
     0.885, 0.782, 0.804, 0.443, 0.510, 0.186, 0.215, -0.190, -0.168, -0.359, -0.286, -0.367, -0.275,
     -0.080, -0.624, -0.713, -0.757, -0.853, -0.890, -0.890],
    [0.800, 0.657, 0.392, 0.472, 0.374, 0.386, 0.361, 0.213, 0.041, -0.002, -0.132, -0.138, -0.237, -0.052,
     0.047, -0.416, -0.459, -0.520, -0.662, -0.718,
     0.485, 0.330, 0.300, 0.170, 0.121, 0.312, -0.305, -0.231, -0.323, -0.360, -0.504, -0.619, -0.699,
     -0.607, -0.625, -0.502, -0.890, -0.650,
     0.841, 0.451, 0.230, -0.161, -0.315, -0.374, -0.698],
    [0.657, 0.552, 0.300, -0.496, -0.681, -0.600, -0.822, -0.175,
     0.805, 0.441, 0.694, 0.454, -0.175, -0.434, -0.385, -0.354, -0.730, -0.909, -0.416,
     0.605, 0.384, 0.303, -0.389, -0.455, 0.635, -0.330, -0.529, -0.757],
    [0.800, 0.318, -0.508, 0.170, 0.423, -0.366, 0.215, -0.168, -0.374, -0.890, -0.853],
    [0.694, 0.466, 0.207, -0.058, -0.379, -0.773, -0.847, -0.792, -0.594, -0.212, -0.181, 0.102,
     0.867, 0.824, 0.713, 0.602, 0.337, 0.115, 0.694, -0.107, -0.335, -0.376, -0.385, -0.356, -0.564,
     -0.718, 0.176,
     0.561, 0.384, -0.135, -0.175, -0.028, -0.367, -0.374, -0.676, -0.742],
    [0.633, 0.639, 0.386, 0.349, -0.397, -0.428, -0.607, -0.107, -0.274, -0.305,
     0.879, 0.750, 0.855, 0.694, 0.657, 0.491, 0.472, 0.374, 0.281, -0.052, -0.613, -0.434, -0.736,
     -0.785, -0.237,
     0.826, 0.657, 0.539, -0.639, -0.359, -0.433, -0.757, -0.904, -0.661, -0.190],
    [0.873, 0.737, 0.706, 0.639, 0.349, 0.324, -0.122, -0.101, -0.594, -0.588, -0.644, -0.514,
     0.663, 0.694, 0.435, 0.275, 0.824, 0.904, -0.113, -0.181, -0.625, -0.699, -0.508, -0.533,
     0.772, 0.834, 0.881, 0.804, 0.893, 0.624, 0.787, 0.733, 0.244, 0.233, -0.359],
    [0.602, -0.674, -0.872, -0.415, 0.879, 0.528, -0.755, -0.798, 0.866, 0.620, 0.694, 0.859, 0.281,
     -0.710, -0.595, -0.219],
    [0.688, 0.713, 0.651, 0.164, -0.268, -0.551, -0.687, -0.650, -0.021,
     0.830, 0.633, 0.741, 0.680, 0.756, 0.651, 0.583, 0.448, 0.186, -0.039, -0.095, -0.120, -0.453,
     -0.804, -0.837, 0.059, 0.129, 0.238,
     0.910, 0.860, 0.755, 0.571, 0.409, 0.350, 0.325, 0.181, -0.028, -0.057, 0.060, -0.116, -0.212,
     -0.396, -0.613, -0.654, -0.676, -0.455, 0.384, -0.080],
    [0.793, 0.540, 0.448, 0.435, 0.133, 0.158, -0.342, -0.557, -0.502, -0.582, -0.705, -0.835, -0.286,
     0.762, 0.614, 0.472, 0.774, 0.417, 0.361, 0.682, 0.324, 0.337, 0.016, -0.132, -0.169, -0.255,
     -0.668, -0.625, -0.890,
     0.539, -0.293, -0.337, -0.477, -0.695, -0.786, -0.146],
    [0.534, 0.540, 0.725, 0.478, 0.411, 0.386, 0.404, 0.250, 0.170, 0.016, 0.004, -0.631, -0.699, -0.859,
     0.799, 0.768, 0.614, 0.589, 0.707, 0.528, 0.534, 0.873, 0.374, -0.237, -0.372, -0.311, -0.409,
     -0.637, -0.693, -0.687, -0.401, -0.452, -0.062,
     0.881, 0.583, 0.532, 0.885, 0.804, 0.554, 0.370, 0.289, 0.208, 0.105, -0.499, -0.551, -0.580, -0.728],
    [0.904, 0.836, 0.842, 0.713, 0.559, 0.583, 0.448, 0.435, 0.491, 0.189, 0.059, -0.033, -0.329, -0.372,
     -0.329, -0.631, -0.619, -0.619, -0.693, -0.625, -0.705, -0.761, -0.755, -0.884, -0.243,
     0.877, 0.811, 0.645, 0.367, 0.361, 0.256, 0.078, 0.146, 0.047, -0.033, -0.187, -0.243, -0.212,
     -0.348, -0.280, -0.150, -0.311, -0.428, -0.551, -0.514, -0.545, -0.829, -0.822,
     0.649, 0.377, 0.355, 0.392, 0.141, 0.156, 0.149, 0.171, -0.183, -0.190, -0.271, -0.286, -0.455,
     -0.418, -0.440, -0.529, -0.492, -0.521, -0.521, -0.529, -0.647, -0.610, -0.669, -0.757, -0.683,
     -0.813, -0.411, -0.197],
    [0.639, -0.064, 0.226, 0.885, 0.554, 0.060, 0.082, 0.024, -0.062, -0.128, -0.131, -0.138, -0.097,
     -0.209, -0.219, -0.345, -0.529, -0.632, -0.676, -0.710, -0.769, -0.171],
    [0.898, 0.885, 0.780, 0.725, 0.503, 0.614, 0.090, -0.200, -0.496, -0.607, -0.798, 0.016,
     0.602, 0.337, 0.700, 0.035, 0.115, -0.440, -0.520, -0.607, -0.693, -0.748, -0.718,
     -0.094, -0.588, -0.477],
    [0.411, 0.195, 0.207, 0.275, 0.170, 0.096, 0.090, 0.084, 0.096, 0.170,
     0.152, 0.170, 0.182, 0.176, 0.207, 0.213, 0.164, -0.021, -0.039, -0.113,
     -0.169, -0.175, -0.175, -0.274, -0.212, -0.249, -0.249, -0.169, -0.126, -0.224,
     -0.107, 0.084, -0.021, -0.533,
     0.213, 0.182, 0.324, 0.152, 0.139, 0.041, 0.004, -0.107, -0.138, -0.150,
     0.022, 0.047, 0.016, -0.058, 0.152, 0.263, 0.287, 0.164, -0.002, -0.089,
     0.337, 0.139, -0.132, -0.286, -0.132, -0.076, -0.218, -0.169, -0.243, -0.403,
     -0.354, -0.311, -0.163,
     0.377, 0.303, 0.222, 0.230, 0.274, 0.325, 0.259, 0.230, 0.068, 0.038,
     0.112, 0.097, 0.097, -0.028, 0.082, -0.097, -0.050, -0.065, -0.062, -0.091,
     -0.065, -0.212, -0.234, -0.300, -0.315, -0.234, -0.308, -0.396, -0.241, -0.507],
    [0.602, 0.312, 0.312, 0.472, 0.398, 0.102, 0.102, 0.115, 0.158, 0.053,
     0.010, -0.009, 0.090, 0.324, 0.035, -0.033, -0.009, -0.120, 0.065, 0.004,
     -0.181, -0.292, -0.298, -0.360, -0.366, -0.286, -0.465, -0.582, -0.274, -0.329,
     0.109, 0.090, 0.226, 0.176, 0.244, 0.189, 0.238, 0.053, 0.004, -0.132,
     -0.132, -0.163, -0.249, -0.126, -0.212, -0.323, -0.150, -0.397, -0.527, -0.490,
     -0.335, -0.212, -0.360,
     0.512, 0.200, 0.141, 0.156, 0.149, 0.060, -0.062, 0.053, 0.141, 0.163,
     0.171, 0.149, -0.006, -0.006, -0.006, -0.087, -0.080, -0.080, -0.146, -0.146,
     -0.227, -0.315, -0.256, -0.381, -0.308, 0.178, 0.193],
    [0.497, 0.478, 0.349, 0.287, 0.244, 0.195, 0.213, 0.213, 0.269, 0.096,
     0.022, -0.046, -0.070, 0.133, 0.213, 0.269, -0.089, 0.250, -0.397, -0.194,
     -0.237, -0.317, -0.329, -0.366, -0.231, -0.231, -0.132, -0.298, -0.298, -0.255,
     -0.329, -0.305,
     0.176, 0.133, 0.380, 0.300, 0.176, 0.392, 0.090, -0.046, 0.047, -0.224,
     -0.212, -0.144, -0.181, -0.064, 0.035, -0.144, -0.132, -0.132, -0.366, -0.113,
     -0.070,
     0.451, 0.281, 0.178, 0.259, 0.178, 0.193, 0.119, 0.071, -0.065, -0.050,
     -0.065, -0.087, -0.094, -0.106, 0.009, -0.109, -0.065, -0.278, -0.308, -0.440,
     -0.212],
    [0.528, 0.211, 0.281, 0.312, 0.133, 0.035, -0.076, -0.206, -0.126, -0.120,
     0.065, 0.092, -0.027, 0.035, -0.064, -0.132, -0.113, -0.101, -0.157, 0.090,
     0.102, 0.010, -0.015, 0.053, -0.070, -0.095, -0.058, 0.275, 0.010, -0.144,
     0.240, 0.112, 0.010, -0.200, 0.203, 0.164, 0.065, 0.127, -0.187, -0.064,
     0.337, -0.064, -0.212, -0.144, -0.194, -0.323,
     0.090, -0.046, -0.064, -0.052, -0.132, -0.169, -0.015, 0.238, 0.226, 0.232,
     0.139, 0.146, 0.306, 0.059, -0.117, 0.109, -0.064, 0.035, -0.089, 0.277,
     0.105, 0.109, 0.090, 0.096, 0.096, -0.033, 0.219, 0.043, -0.101, 0.102,
     -0.187, -0.089, 0.078, -0.187, -0.305, -0.292, -0.095, -0.046, -0.311, -0.403,
     -0.293, -0.239, 0.292, 0.186, 0.296, 0.225, -0.003, -0.021, 0.348, -0.197,
     -0.194, 0.038, 0.333, 0.130, 0.355, -0.080, 0.222, 0.200, -0.018, -0.065,
     0.159, 0.105, 0.406, 0.171, -0.050, -0.234, -0.278, -0.168, -0.112, 0.134,
     -0.367, -0.283, -0.330, 0.289, 0.027, 0.041, -0.293, 0.031, -0.175, 0.178,
     0.050, 0.016, 0.024, 0.115, -0.175, -0.146],
    [0.694, 0.417, 0.349, 0.330, 0.324, 0.256, 0.238, 0.191, 0.154, 0.162,
     0.127, 0.090, 0.269, 0.115, 0.053, 0.102, 0.041, 0.047, -0.009, 0.010,
     -0.021, 0.068, 0.047, 0.216, 0.216, -0.052, -0.101, -0.076, -0.150, -0.132,
     -0.089, -0.132, -0.107, -0.150, -0.184, -0.163, -0.181, -0.224, -0.268, -0.274,
     -0.274, -0.181, -0.335, -0.422, -0.514, 0.016,
     0.263, 0.182, 0.133, 0.078, 0.343, 0.398, 0.250, 0.201, 0.182, 0.189,
     0.158, 0.072, 0.047, -0.052, -0.064, -0.021, 0.041, -0.150, -0.064, -0.163,
     -0.150, -0.163, 0.102, -0.169, -0.169, 0.189, 0.275, -0.021, -0.280, 0.115,
     0.158, 0.219, 0.102, 0.004, -0.323, -0.416, -0.428, -0.625, -0.416, -0.305,
     -0.311, -0.329, -0.551, -0.292,
     0.495, 0.289, 0.203, 0.193, 0.178, 0.222, 0.100, 0.186, 0.281, 0.208,
     0.115, 0.021, 0.060, -0.028, 0.027, 0.050, 0.085, 0.100, -0.013, 0.016,
     -0.116, -0.131, -0.080, -0.138, -0.183, -0.146, -0.160, -0.271, -0.271, -0.345,
     -0.138, -0.183, -0.234, -0.315, -0.411, -0.433, -0.396, -0.477, -0.624, -0.691,
     -0.566, -0.433, -0.595],
    [0.240, 0.277, 0.164, 0.189, 0.219, 0.219, 0.109, 0.053, 0.047, -0.039,
     0.004, -0.126, -0.064, -0.163, -0.243, -0.335, -0.409, -0.181, -0.212, -0.274,
     0.102, 0.232, 0.256, 0.306, 0.010, -0.015, 0.121, 0.078, 0.102, 0.213,
     -0.261, -0.218, -0.163, 0.059, -0.058,
     0.429, 0.482, 0.075, 0.010, -0.064, -0.175, -0.231, -0.446, -0.514, -0.076,
     -0.231, -0.379, -0.397, -0.064, -0.021, -0.169, -0.249, -0.440, 0.047, 0.355,
     0.404, -0.129, -0.021, -0.212, -0.101, 0.102, -0.021, 0.238, 0.226, -0.187,
     -0.126, -0.027, 0.700, 0.528,
     0.333, 0.124, 0.112, -0.135, 0.333, 0.325, -0.013, 0.134, 0.237, -0.035,
     -0.286, 0.127, 0.311, 0.259, 0.299, 0.050, 0.141, -0.345, 0.050, -0.180,
     0.001, 0.082, -0.212, 0.230, -0.190, -0.102, 0.483, 0.134, 0.546, 0.281,
     -0.205, -0.077, -0.465],
]

# ------------------------------------------------------------------ styles
rgb_of = {
    "black": (0, 0, 0), "blue": (0, 0, 255), "green": (0, 128, 0), "orange": (255, 165, 0),
    "purple": (128, 0, 128), "gray": (128, 128, 128), "magenta": (255, 0, 255),
    "cyan": (0, 255, 255), "lime": (0, 255, 0),
}
color_cycle = ["black", "blue", "green", "orange", "purple", "gray", "magenta", "cyan", "lime"]
symbol_cycle = ["circle", "triangle-down", "triangle-up", "triangle-left", "triangle-right", "square",
                "star", "hexagon", "hexagon2", "diamond", "diamond-tall", "cross", "x"]
legend_of = ["legend"] * 5 + ["legend2"] * 6 + ["legend3"] * 6 + ["legend4"] * 4
FONT = "DejaVu Sans"
FIG_W, FIG_H = 4250, 3192


def rgba(name, alpha):
    r, g, b = rgb_of[name]
    return f"rgba({r},{g},{b},{alpha})"


n_sets = len(bin_phase)
fig = go.Figure()

# faint unbinned points + error bars (flux panel)
for i in range(n_sets):
    c = color_cycle[i % 9]
    fig.add_trace(go.Scatter(
        x=raw_phase[i], y=raw_flux[i], mode="markers", xaxis="x", yaxis="y",
        marker=dict(symbol=symbol_cycle[i % 13], size=26, color=rgba(c, 0.1),
                    line=dict(color=rgba(c, 0.1), width=3)),
        error_y=dict(type="constant", value=raw_err[i], color=rgba(c, 0.15), thickness=5, width=0),
        showlegend=False, hoverinfo="skip"))

# transit model
model_label = (f"<i>R</i><sub><i>p</i></sub><sup>2</sup>/<i>R</i><sub><i>s</i></sub><sup>2</sup>"
               f" = {rp2_value:.5f} ± {rp2_error:.5f}<br>"
               f"<i>T</i><sub><i>mid</i></sub> = {tmid_value:.4f} ± {tmid_error:.5f} BJD<sub><i>TDB</i></sub>")
fig.add_trace(go.Scatter(
    x=model_phase, y=model_flux, mode="lines", xaxis="x", yaxis="y",
    line=dict(color="red", width=10, shape="spline", smoothing=0.6),
    name=model_label, legend="legend", legendgroup="model"))

# per-dataset binned points
for i in range(n_sets):
    c = color_cycle[i % 9]
    fig.add_trace(go.Scatter(
        x=bin_phase[i], y=bin_flux[i], mode="markers", xaxis="x", yaxis="y",
        marker=dict(symbol=symbol_cycle[i % 13], size=29, color=c, line=dict(width=0)),
        error_y=dict(type="data", array=bin_err[i], color=c, thickness=5, width=0),
        name=f"{sources[i]}: {scatter_pct[i]:.2f} %", legend=legend_of[i], legendgroup=f"set{i}"))

# all-data bins
fig.add_trace(go.Scatter(
    x=binned_phase, y=binned_flux, mode="markers", xaxis="x", yaxis="y",
    marker=dict(symbol="circle", size=60, color="white", line=dict(color="black", width=4)),
    name=f"Binned Data: {binned_pct:.2f} %", legend="legend4", legendgroup="binned"))

# residual panel
for i in range(n_sets):
    c = color_cycle[i % 9]
    fig.add_trace(go.Scatter(
        x=res_phase[i], y=res_value[i], mode="markers", xaxis="x2", yaxis="y2",
        marker=dict(symbol=symbol_cycle[i % 13], size=26, color=rgba(c, 0.3),
                    line=dict(color=rgba(c, 0.3), width=3)),
        showlegend=False, hoverinfo="skip"))
fig.add_trace(go.Scatter(
    x=binned_phase, y=binned_resid, mode="markers", xaxis="x2", yaxis="y2",
    marker=dict(symbol="circle", size=44, color="white", line=dict(color="black", width=4)),
    showlegend=False))

# ------------------------------------------------------------------ layout
split = 0.2502
axis_common = dict(showline=True, mirror=True, linecolor="black", linewidth=3.5, zeroline=False,
                   tickfont=dict(family=FONT, size=42, color="black"))
grid_y = dict(showgrid=True, gridcolor="#a8a8a8", gridwidth=3, griddash="18px,8px")

legend_common = dict(xanchor="left", yanchor="top", bgcolor="rgba(0,0,0,0)", borderwidth=0,
                     font=dict(family=FONT, size=41, color="black"), itemwidth=136,
                     tracegroupgap=7, itemsizing="trace", orientation="v")

fig.update_layout(
    width=FIG_W, height=FIG_H,
    margin=dict(l=260, r=30, t=28, b=174),
    plot_bgcolor="white", paper_bgcolor="white",
    font=dict(family=FONT, size=42, color="black"),
    xaxis=dict(domain=[0, 1], anchor="y", matches="x2", range=[-0.025505, 0.02772],
               showticklabels=False, ticks="", showgrid=False, **axis_common),
    yaxis=dict(domain=[split, 1], anchor="x", range=[0.97170, 1.00930],
               tickvals=[0.975, 0.980, 0.985, 0.990, 0.995, 1.000, 1.005], tickformat=".3f",
               ticks="outside", ticklen=14, tickwidth=3,
               title=dict(text="Relative Flux", font=dict(family=FONT, size=58), standoff=18),
               **grid_y, **axis_common),
    xaxis2=dict(domain=[0, 1], anchor="y2", range=[-0.025505, 0.02772],
                tickvals=[-0.02, -0.01, 0.0, 0.01, 0.02], tickformat=".2f",
                ticks="outside", ticklen=14, tickwidth=3, showgrid=False,
                title=dict(text="Phase", font=dict(family=FONT, size=58), standoff=22),
                **axis_common),
    yaxis2=dict(domain=[0, split], anchor="x2", range=[-0.924, 0.928],
                tickvals=[-0.75, -0.5, -0.25, 0.0, 0.25, 0.5, 0.75], tickformat=".2f",
                ticks="outside", ticklen=14, tickwidth=3,
                title=dict(text="Residuals [%]", font=dict(family=FONT, size=58), standoff=10),
                **grid_y, **axis_common),
    shapes=[dict(type="rect", xref="paper", yref="paper", x0=0.1669, x1=0.8323, y0=0.8388, y1=0.9930,
                 fillcolor="rgba(255,255,255,0.8)", line=dict(color="#cccccc", width=3), layer="above")],
    legend=dict(x=0.1636, y=0.9876, **legend_common),
    legend2=dict(x=0.4225, y=0.9786, **legend_common),
    legend3=dict(x=0.5525, y=0.9786, **legend_common),
    legend4=dict(x=0.6826, y=0.9786, **legend_common),
)

# keep the whole fixed-size figure inside the browser viewport
fit_js = f"""
document.documentElement.style.margin = '0';
document.documentElement.style.overflow = 'hidden';
document.body.style.margin = '0';
document.body.style.overflow = 'hidden';
var gd = document.getElementsByClassName('plotly-graph-div')[0];
var s = Math.min(window.innerWidth / {FIG_W}, window.innerHeight / {FIG_H});
if (s < 0.999) {{
    gd.style.transformOrigin = '0 0';
    gd.style.transform = 'scale(' + s + ')';
}}
"""
fig.write_html("out.html", post_script=fit_js)
